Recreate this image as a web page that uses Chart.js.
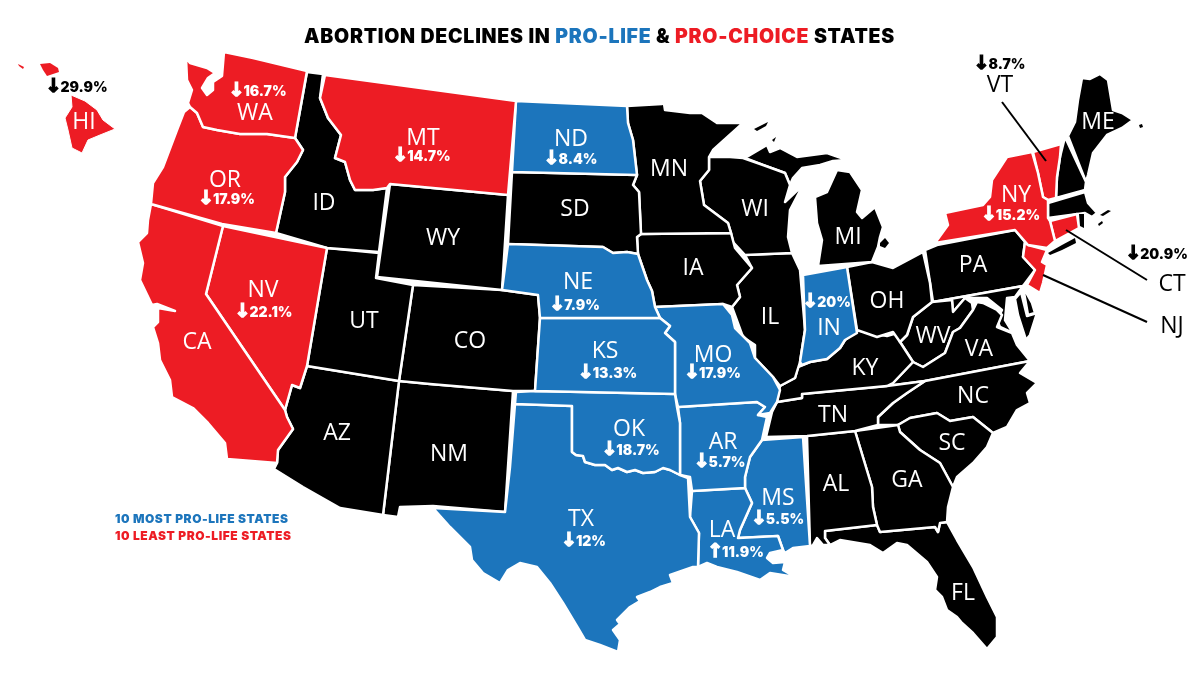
<!DOCTYPE html>
<html>
<head>
<meta charset="utf-8">
<style>
  html, body { margin: 0; padding: 0; background: #fff; }
  #wrap { width: 1200px; height: 675px; }
</style>
<script src="https://cdn.jsdelivr.net/npm/chart.js@4"></script>
</head>
<body>
<div id="wrap"><canvas id="map" width="1200" height="675"></canvas></div>
<script>
// state outlines, in map units (x right, y down)
const WA = [[186,58],[190,63],[207,68],[215,73],[208,78],[202,88],[207,95],[213,90],[213,82],[222,76],[224,52],[253,58],[307,71],[295,138],[267,134],[240,134],[217,130],[203,127],[197,113],[190,107],[188,103],[192,90],[187,80]];
const OR = [[184,112],[190,107],[197,113],[203,127],[217,130],[240,134],[267,134],[295,138],[303,150],[297,162],[285,177],[285,192],[276,233],[222,224],[151,204],[153,183],[163,167],[177,130]];
const CA = [[151,204],[223,226],[206,294],[285,410],[287,417],[293,429],[278,450],[277,463],[227,459],[225,443],[208,423],[193,408],[172,397],[170,380],[160,360],[158,343],[153,327],[158,322],[158,308],[175,311],[157,304],[152,305],[140,280],[143,263],[138,242],[147,233],[148,220]];
const NV = [[223,226],[327,248],[307,366],[300,388],[292,385],[285,410],[206,294]];
const ID = [[307,72],[323,74],[320,98],[328,118],[341,135],[335,158],[345,162],[350,180],[355,190],[373,190],[387,188],[379,252],[327,248],[276,233],[285,192],[285,177],[297,162],[303,150],[295,138]];
const MT = [[325,75],[516,101],[508,195],[390,184],[387,188],[373,190],[355,190],[350,180],[345,162],[335,158],[341,135],[328,118],[320,98]];
const WY = [[390,184],[508,195],[502,290],[377,277]];
const UT = [[327,248],[379,253],[376,278],[413,285],[399,381],[307,366]];
const CO = [[413,285],[502,290],[538,295],[540,318],[535,391],[513,391],[430,384],[399,381]];
const AZ = [[307,366],[399,381],[383,515],[340,508],[303,487],[274,469],[277,463],[278,450],[293,429],[287,417],[285,410],[292,385],[300,388]];
const NM = [[399,381],[430,384],[513,391],[505,512],[433,506],[400,507],[398,517],[383,515]];
const ND = [[516,101],[627,106],[628,123],[633,140],[637,175],[512,172]];
const SD = [[512,172],[637,175],[633,185],[639,192],[641,234],[637,237],[638,254],[627,252],[613,253],[603,247],[508,244]];
const NE = [[508,244],[603,247],[613,253],[627,252],[638,254],[647,280],[652,291],[655,307],[660,318],[540,318],[538,295],[502,290]];
const KS = [[540,318],[660,318],[670,326],[665,333],[675,342],[675,394],[535,391]];
const OK = [[516,392],[535,391],[675,394],[677,407],[680,423],[680,475],[670,470],[663,468],[655,472],[643,473],[635,470],[627,472],[618,468],[612,470],[605,465],[595,465],[585,462],[583,456],[576,455],[572,452],[572,406],[515,404]];
const TX = [[515,404],[572,406],[572,452],[576,455],[583,456],[585,462],[595,465],[605,465],[612,470],[618,468],[627,472],[635,470],[643,473],[655,472],[663,468],[670,470],[680,475],[688,478],[690,517],[699,533],[698,567],[693,567],[670,575],[673,583],[660,587],[650,592],[637,597],[640,601],[630,607],[625,612],[617,620],[620,624],[613,630],[620,640],[618,652],[600,645],[585,640],[578,628],[563,603],[550,583],[537,567],[520,563],[508,570],[500,583],[483,573],[472,560],[470,547],[450,527],[433,508],[505,512],[510,467]];
const MN = [[627,106],[662,104],[663,97],[665,110],[690,113],[702,113],[717,123],[743,123],[713,150],[709,157],[709,170],[700,181],[704,205],[728,223],[731,233],[641,234],[639,192],[633,185],[637,175],[633,140],[628,123]];
const IA = [[641,234],[731,233],[735,248],[752,268],[737,285],[740,297],[732,307],[723,304],[655,307],[652,291],[647,280],[638,254],[637,237]];
const MO = [[655,307],[723,304],[732,315],[735,328],[750,343],[755,358],[773,377],[780,390],[777,402],[770,413],[758,415],[765,407],[757,402],[678,407],[675,394],[675,342],[665,333],[670,326],[660,318]];
const AR = [[678,407],[757,402],[765,407],[758,415],[767,417],[762,440],[750,457],[745,477],[745,488],[692,491],[690,477],[680,475],[680,423]];
const LA = [[692,491],[745,488],[752,503],[740,530],[738,538],[778,536],[783,550],[770,553],[767,558],[773,563],[785,562],[783,570],[795,577],[770,573],[760,580],[737,572],[717,567],[707,563],[698,567],[699,533],[690,517]];
const MS = [[762,440],[803,437],[810,546],[793,548],[785,553],[783,550],[778,536],[738,538],[740,530],[752,503],[745,488],[745,477],[750,457]];
const WI = [[709,157],[730,157],[743,158],[763,165],[785,173],[790,185],[785,202],[803,185],[790,210],[788,237],[792,253],[745,255],[733,242],[731,233],[728,223],[704,205],[700,181],[709,170]];
const IL = [[745,255],[792,253],[800,270],[805,330],[800,362],[795,378],[780,386],[773,377],[755,358],[755,345],[743,337],[732,307],[740,297],[737,285],[752,268]];
const IN = [[803,275],[847,267],[857,333],[845,340],[840,348],[827,359],[810,362],[802,365],[800,362],[805,330]];
const MI = [[818,266],[872,262],[878,247],[880,237],[883,227],[875,207],[862,218],[857,212],[862,190],[850,172],[837,170],[827,192],[815,197],[817,223],[822,240]];
const MIUpper = [[745,158],[767,145],[770,152],[780,148],[797,157],[827,153],[847,160],[833,161],[820,165],[802,168],[793,178],[790,185],[785,173],[763,165]];
const OH = [[847,267],[872,262],[893,268],[923,252],[930,283],[932,302],[913,317],[907,335],[900,342],[893,332],[877,337],[857,330]];
const KY = [[780,386],[795,378],[798,367],[810,362],[827,359],[840,348],[845,340],[857,330],[870,333],[887,336],[897,333],[900,342],[913,362],[893,383],[887,386],[802,394],[802,398],[777,402]];
const TN = [[777,402],[802,398],[802,394],[887,386],[925,381],[907,393],[893,403],[878,417],[878,425],[855,431],[807,436],[766,437],[772,412]];
const AL = [[807,436],[855,431],[872,487],[873,507],[877,525],[825,531],[825,538],[830,545],[823,545],[817,538],[813,545],[810,547]];
const GA = [[855,431],[898,425],[900,432],[920,450],[940,463],[953,487],[948,507],[947,522],[940,523],[938,532],[935,527],[880,532],[877,525],[873,507],[872,487]];
const FL = [[825,531],[877,525],[880,532],[935,527],[938,532],[940,523],[947,522],[957,540],[973,567],[987,597],[997,617],[997,637],[987,649],[973,633],[962,623],[957,617],[947,610],[942,597],[935,590],[937,577],[927,562],[907,545],[897,543],[883,553],[870,545],[840,540],[830,545],[825,538]];
const SC = [[898,425],[910,418],[937,413],[950,421],[973,417],[993,433],[987,447],[973,463],[957,477],[953,487],[940,463],[920,450],[900,432]];
const NC = [[878,425],[878,417],[893,403],[907,393],[925,381],[1030,361],[1020,373],[1037,383],[1027,393],[1030,403],[1017,410],[1007,427],[993,433],[973,417],[950,421],[937,413],[910,418],[898,425]];
const VA = [[913,362],[923,367],[945,353],[953,332],[960,328],[973,310],[977,302],[983,303],[997,310],[1002,315],[997,327],[1012,333],[1017,345],[1030,361],[925,381],[887,386],[893,383]];
const WV = [[932,302],[952,300],[953,312],[965,298],[972,303],[973,310],[960,328],[953,332],[945,353],[923,367],[913,362],[900,342],[907,335],[913,317]];
const MD = [[933,302],[1023,286],[1015,297],[1007,298],[1005,320],[1013,333],[1000,327],[997,320],[1002,310],[987,298],[965,298],[953,312],[952,300]];
const DE = [[1023,287],[1032,303],[1035,313],[1028,315]];
const Delmarva = [[1021,292],[1027,316],[1037,313],[1030,335],[1026,340],[1018,315],[1015,299]];
const PA = [[925,250],[937,245],[1015,230],[1025,242],[1023,257],[1035,270],[1023,286],[933,302]];
const NY = [[935,243],[948,225],[945,213],[983,205],[990,197],[992,180],[1007,157],[1032,152],[1038,173],[1043,197],[1048,200],[1048,218],[1050,221],[1055,241],[1047,248],[1028,245],[1015,230]];
const NJ = [[1028,245],[1047,250],[1042,262],[1047,265],[1043,283],[1040,293],[1027,285],[1035,270],[1023,257],[1025,242]];
const VT = [[1033,152],[1061,144],[1060,157],[1057,177],[1056,198],[1048,200],[1043,197],[1038,173]];
const NH = [[1065,137],[1086,182],[1085,190],[1056,198],[1057,177],[1060,157]];
const ME = [[1068,136],[1075,122],[1078,100],[1082,78],[1090,79],[1100,74],[1108,80],[1113,110],[1122,113],[1133,120],[1122,128],[1107,135],[1093,153],[1088,175],[1086,182]];
const MA = [[1048,203],[1085,192],[1088,203],[1097,213],[1092,217],[1085,213],[1048,218]];
const CT = [[1050,221],[1077,214],[1079,228],[1055,241]];
const RI = [[1079,214],[1084,214],[1084,228],[1080,226]];
const LongIsland = [[1048,253],[1062,245],[1075,238],[1076,243],[1062,250],[1050,255]];
const Hawaii = [[71,95],[85,101],[97,110],[103,120],[115,129],[100,135],[88,140],[82,153],[72,148],[68,130],[65,118],[72,107]];
const Maui = [[40,64],[50,63],[58,68],[59,72],[47,76],[43,70]];
const Oahu = [[18,64],[24,67],[23,69],[19,66]];
const IsleRoyale = [[754,129],[764,124],[768,122],[766,126],[757,131]];
const Keweenaw = [[772,140],[776,137],[774,142]];
const MtDesert = [[1139,125],[1142,124],[1143,127],[1140,128]];
const Marthas = [[1098,224],[1102,221],[1103,223],[1099,226]];
const CapeTip = [[1100,215],[1108,210],[1111,211],[1103,216]];
const StClair = [[880,243],[885,238],[889,243],[885,248],[880,246]];

// state codes and the change in abortions, in percent
const proLifeStates = ['ND','NE','KS','OK','TX','MO','AR','LA','MS','IN'];
const proLifeChanges = [-8.4,-7.9,-13.3,-18.7,-12,-17.9,-5.7,11.9,-5.5,-20];
const proChoiceStates = ['WA','OR','CA','NV','MT','NY','VT','CT','NJ','HI'];
const proChoiceChanges = [-16.7,-17.9,null,-22.1,-14.7,-15.2,-8.7,-20.9,null,-29.9];
const otherStates = ['ID','WY','UT','CO','AZ','NM','SD','MN','IA','WI','IL','MI','OH','KY','TN','AL','GA','FL','SC','NC','VA','WV','PA','ME'];
const titleParts = ['ABORTION DECLINES IN ', 'PRO-LIFE', ' & ', 'PRO-CHOICE', ' STATES'];
const legendLabels = ['10 MOST PRO-LIFE STATES', '10 LEAST PRO-LIFE STATES'];

const RED = '#ed1c24', BLUE = '#1c75bc', BLACK = '#000000';

const shape = (label, pts, color, width = 2.5) => ({
  label, backgroundColor: color, borderColor: width ? '#ffffff' : color, borderWidth: width,
  data: pts.map(p => ({x: p[0], y: p[1]})).concat([{x: pts[0][0], y: pts[0][1]}]),
  showLine: true, fill: 'shape', pointRadius: 0, tension: 0, borderJoinStyle: 'round'
});
const callout = (label, pts) => ({
  label, borderColor: BLACK, borderWidth: 2, showLine: true, fill: false, pointRadius: 0,
  data: pts.map(p => ({x: p[0], y: p[1]}))
});

const datasets = [
  callout('VT line', [[1002,102],[1046,161]]),
  callout('CT line', [[1066,230],[1147,280]]),
  callout('NJ line', [[1043,275],[1147,322]]),
  shape('RI', RI, BLACK, 0), shape('Long Island', LongIsland, BLACK, 0),
  shape('Isle Royale', IsleRoyale, BLACK, 0), shape('Keweenaw', Keweenaw, BLACK, 0), shape('Mt Desert', MtDesert, BLACK, 0),
  shape('Marthas', Marthas, BLACK, 0), shape('Cape tip', CapeTip, BLACK, 0), shape('St Clair', StClair, BLACK, 0),
  shape('Hawaii', Hawaii, RED, 1), shape('Maui', Maui, RED, 0), shape('Oahu', Oahu, RED, 0),
  shape('WA', WA, RED), shape('OR', OR, RED), shape('CA', CA, RED), shape('NV', NV, RED), shape('MT', MT, RED),
  shape('NY', NY, RED), shape('VT', VT, RED), shape('CT', CT, RED), shape('NJ', NJ, RED),
  shape('ND', ND, BLUE), shape('NE', NE, BLUE), shape('KS', KS, BLUE), shape('OK', OK, BLUE), shape('TX', TX, BLUE),
  shape('MO', MO, BLUE), shape('AR', AR, BLUE), shape('LA', LA, BLUE), shape('MS', MS, BLUE), shape('IN', IN, BLUE),
  shape('ID', ID, BLACK), shape('WY', WY, BLACK), shape('UT', UT, BLACK), shape('CO', CO, BLACK), shape('AZ', AZ, BLACK),
  shape('NM', NM, BLACK), shape('SD', SD, BLACK), shape('MN', MN, BLACK), shape('IA', IA, BLACK), shape('WI', WI, BLACK),
  shape('IL', IL, BLACK), shape('MI', MI, BLACK), shape('MI upper', MIUpper, BLACK), shape('OH', OH, BLACK), shape('KY', KY, BLACK),
  shape('TN', TN, BLACK), shape('AL', AL, BLACK), shape('GA', GA, BLACK), shape('FL', FL, BLACK), shape('SC', SC, BLACK),
  shape('NC', NC, BLACK), shape('VA', VA, BLACK), shape('WV', WV, BLACK), shape('MD', MD, BLACK), shape('DE', DE, BLACK),
  shape('Delmarva', Delmarva, BLACK), shape('PA', PA, BLACK), shape('NH', NH, BLACK), shape('ME', ME, BLACK), shape('MA', MA, BLACK)
];

// where each code and each percent sit on the map
const codeSpots = {HI:[84,122],WA:[255,113],OR:[225,180],ID:[324,203],MT:[423,138],ND:[571,139],WY:[443,238],SD:[575,209],MN:[669,169],WI:[755,209],MI:[848,237],NY:[1016,195],ME:[1098,122],VT:[1000,85],CT:[1172,284],NJ:[1172,326],PA:[973,265],OH:[887,301],IN:[829,328],IL:[770,317],IA:[693,268],NE:[578,282],KS:[605,351],MO:[713,355],UT:[364,321],CO:[470,341],NV:[263,290],CA:[197,342],AZ:[337,433],NM:[449,454],OK:[629,429],TX:[581,519],AR:[723,442],LA:[722,530],MS:[778,498],AL:[836,484],GA:[907,480],FL:[963,593],SC:[952,443],NC:[973,396],TN:[833,415],KY:[865,368],WV:[933,336],VA:[979,349]};
const changeSpots = {HI:[77,87],WA:[258,91],OR:[227,199],MT:[422,156],ND:[571,159],NY:[1011,215],VT:[1000,64],CT:[1157,254],IN:[827,302],NE:[575,305],KS:[608,373],MO:[713,373],NV:[264,312],OK:[631,450],TX:[584,541],AR:[720,462],LA:[736,552],MS:[778,519]};
const darkText = ['HI','VT','CT'];
const darkCodes = ['VT','CT','NJ'];

const heavy = size => `900 ${size}px Inter, "DejaVu Sans", sans-serif`;
const arrowFont = 'bold 19px "DejaVu Sans", sans-serif';

const textPlugin = {
  id: 'mapText',
  afterDraw(chart) {
    const {ctx, scales: {x, y}} = chart;
    ctx.save();
    ctx.textBaseline = 'middle';

    // state codes
    ctx.textAlign = 'center';
    ctx.font = '400 23px "Open Sans", sans-serif';
    proLifeStates.concat(proChoiceStates, otherStates).forEach(code => {
      const at = codeSpots[code];
      ctx.fillStyle = darkCodes.includes(code) ? BLACK : '#ffffff';
      ctx.fillText(code, x.getPixelForValue(at[0]), y.getPixelForValue(at[1]));
    });

    // percent changes: a big arrow, then the number
    ctx.textAlign = 'left';
    const putChange = (code, v) => {
      if (v === null) return;
      const at = changeSpots[code];
      const arrow = v < 0 ? '\u2193' : '\u2191';
      const num = Math.abs(v) + '%';
      const color = darkText.includes(code) ? BLACK : '#ffffff';
      ctx.fillStyle = color;
      ctx.font = arrowFont;
      const aw = ctx.measureText(arrow).width - 2;
      ctx.font = heavy(14);
      const nw = ctx.measureText(num).width;
      const left = x.getPixelForValue(at[0]) - (aw + nw) / 2;
      const py = y.getPixelForValue(at[1]);
      ctx.fillText(num, left + aw, py + 0.5);
      ctx.font = arrowFont;
      ctx.strokeStyle = color;
      ctx.lineWidth = 1.4;
      ctx.fillText(arrow, left - 1, py);
      ctx.strokeText(arrow, left - 1, py);
    };
    proLifeStates.forEach((c, i) => putChange(c, proLifeChanges[i]));
    proChoiceStates.forEach((c, i) => putChange(c, proChoiceChanges[i]));

    // title, one colour per part
    ctx.font = heavy(19.5);
    ctx.letterSpacing = '0.75px';
    const titleColors = [BLACK, BLUE, BLACK, RED, BLACK];
    let tx = 304;
    titleParts.forEach((part, i) => {
      ctx.fillStyle = titleColors[i];
      ctx.fillText(part, tx, 37);
      tx += ctx.measureText(part).width;
    });

    // legend
    ctx.font = heavy(12);
    ctx.letterSpacing = '0.55px';
    ctx.fillStyle = BLUE;
    ctx.fillText(legendLabels[0], 115, 519.5);
    ctx.fillStyle = RED;
    ctx.fillText(legendLabels[1], 115, 536.5);
    ctx.restore();
  }
};

new Chart(document.getElementById('map').getContext('2d'), {
  type: 'scatter',
  data: {datasets},
  options: {
    responsive: false,
    animation: false,
    layout: {padding: 0},
    plugins: {legend: {display: false}, tooltip: {enabled: false}, title: {display: false}},
    scales: {
      x: {type: 'linear', min: 0, max: 1200, display: false},
      y: {type: 'linear', min: 0, max: 675, reverse: true, display: false}
    }
  },
  plugins: [textPlugin]
});
</script>
</body>
</html>
